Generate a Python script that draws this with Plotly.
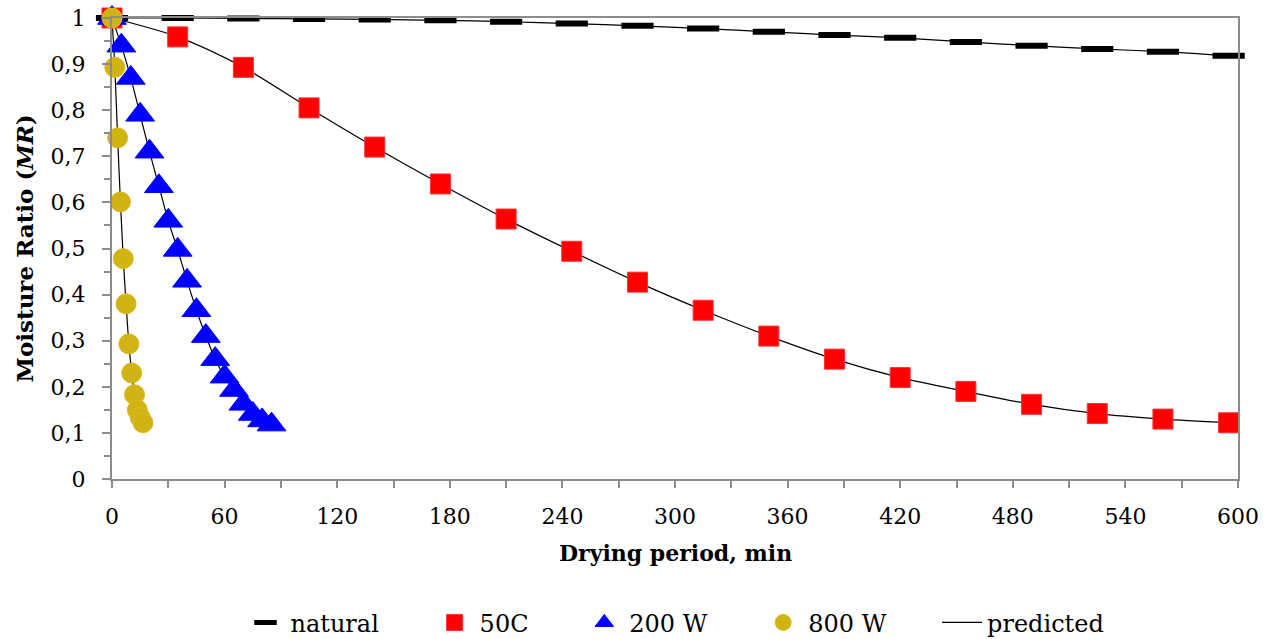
import plotly.graph_objects as go

# ---- data ----
t_natural = [0, 35, 70, 105, 140, 175, 210, 245, 280, 315, 350, 385, 420, 455, 490, 525, 560, 595]
mr_natural = [1.0, 1.0, 0.999, 0.998, 0.997, 0.995, 0.992, 0.988, 0.983, 0.977, 0.970, 0.963,
              0.957, 0.948, 0.940, 0.933, 0.927, 0.918]

t_50c = [0, 35, 70, 105, 140, 175, 210, 245, 280, 315, 350, 385, 420, 455, 490, 525, 560, 595]
mr_50c = [1.0, 0.959, 0.893, 0.805, 0.72, 0.64, 0.564, 0.494, 0.427, 0.366, 0.31, 0.26,
          0.22, 0.19, 0.162, 0.142, 0.13, 0.122]

t_200w = [0, 5, 10, 15, 20, 25, 30, 35, 40, 45, 50, 55, 60, 65, 70, 75, 80, 85]
mr_200w = [1.0, 0.94, 0.87, 0.79, 0.71, 0.635, 0.56, 0.497, 0.43, 0.366, 0.31, 0.26,
           0.222, 0.193, 0.163, 0.141, 0.127, 0.118]

t_800w = [0, 1.5, 3, 4.5, 6, 7.5, 9, 10.5, 12, 13.5, 15, 16.5]
mr_800w = [1.0, 0.893, 0.74, 0.601, 0.478, 0.38, 0.293, 0.23, 0.183, 0.15, 0.134, 0.122]

x_ticks = [0, 60, 120, 180, 240, 300, 360, 420, 480, 540, 600]
y_ticks = [0, 0.1, 0.2, 0.3, 0.4, 0.5, 0.6, 0.7, 0.8, 0.9, 1.0]
y_ticktext = ["0", "0,1", "0,2", "0,3", "0,4", "0,5", "0,6", "0,7", "0,8", "0,9", "1"]

legend_names = ["natural", "50C", "200 W", "800 W", "predicted"]

FONT = "DejaVu Serif"
AX = "#8c8c8c"
PAD = "\u00a0" * 6  # spacing between legend entries

fig = go.Figure()

# predicted lines (drawn first, under markers)
pred_sets = [(t_natural, mr_natural), (t_50c, mr_50c), (t_200w, mr_200w), (t_800w, mr_800w)]
for i, (tx, ty) in enumerate(pred_sets):
    fig.add_trace(go.Scatter(
        x=tx, y=ty, mode="lines", name=legend_names[4],
        line=dict(color="black", width=1.2, shape="spline", smoothing=0.8),
        showlegend=(i == 0), legendgroup="pred", legendrank=5, cliponaxis=False))

fig.add_trace(go.Scatter(
    x=t_natural, y=mr_natural, mode="markers", name=legend_names[0] + PAD, legendrank=1,
    marker=dict(symbol="line-ew", size=23, color="black", line=dict(color="black", width=6)),
    cliponaxis=False))
fig.add_trace(go.Scatter(
    x=t_50c, y=mr_50c, mode="markers", name=legend_names[1] + PAD, legendrank=2,
    marker=dict(symbol="square", size=20, color="#ff0000", line=dict(color="#ff3030", width=1)),
    cliponaxis=False))
fig.add_trace(go.Scatter(
    x=t_200w, y=mr_200w, mode="markers", name=legend_names[2] + PAD, legendrank=3,
    marker=dict(symbol="triangle-up", size=25, color="#0000ff", line=dict(color="#0000ff", width=1)),
    cliponaxis=False))
fig.add_trace(go.Scatter(
    x=t_800w, y=mr_800w, mode="markers", name=legend_names[3] + PAD, legendrank=4,
    marker=dict(symbol="circle", size=20, color="#d0b414", line=dict(color="#e0b820", width=1)),
    cliponaxis=False))

fig.update_layout(
    width=1265, height=639,
    paper_bgcolor="white", plot_bgcolor="white",
    margin=dict(l=112, r=27, t=18, b=160, autoexpand=False),
    font=dict(family=FONT, size=20, color="black"),
    showlegend=True,
    legend=dict(orientation="h", x=0.5, xanchor="center", y=-0.312, yanchor="middle",
                font=dict(family=FONT, size=24), itemwidth=40, traceorder="normal"),
    xaxis=dict(range=[0, 600], tickvals=x_ticks, ticktext=[str(v) for v in x_ticks],
               automargin=False,
               showgrid=False, zeroline=False, showline=True, linecolor=AX, linewidth=2,
               mirror=True, ticks="outside", ticklen=7, tickcolor=AX, tickwidth=1.5,
               ticklabelstandoff=10, tickfont=dict(family=FONT, size=22),
               minor=dict(dtick=30, tick0=0, ticks="outside", ticklen=7, tickcolor=AX, tickwidth=1.5)),
    yaxis=dict(range=[0, 1], tickvals=y_ticks, ticktext=y_ticktext,
               automargin=False,
               showgrid=False, zeroline=False, showline=True, linecolor=AX, linewidth=2,
               mirror=True, ticks="outside", ticklen=8, tickcolor=AX, tickwidth=1.5,
               ticklabelstandoff=12, tickfont=dict(family=FONT, size=22),
               minor=dict(dtick=0.05, tick0=0, ticks="outside", ticklen=6, tickcolor=AX, tickwidth=1.5)),
    annotations=[
        dict(text="<b>Drying period, min</b>", xref="paper", yref="paper", x=0.5, y=-0.1605,
             xanchor="center", yanchor="middle", showarrow=False, font=dict(family=FONT, size=22)),
        dict(text="<b>Moisture Ratio (<i>MR</i>)</b>", xref="paper", yref="paper", x=-0.0773, y=0.5,
             xanchor="center", yanchor="middle", textangle=-90, showarrow=False,
             font=dict(family=FONT, size=23)),
    ],
)

fig.write_html("out.html", config={"displayModeBar": False},
               post_script="document.body.style.margin='0';document.body.style.overflow='hidden';")
